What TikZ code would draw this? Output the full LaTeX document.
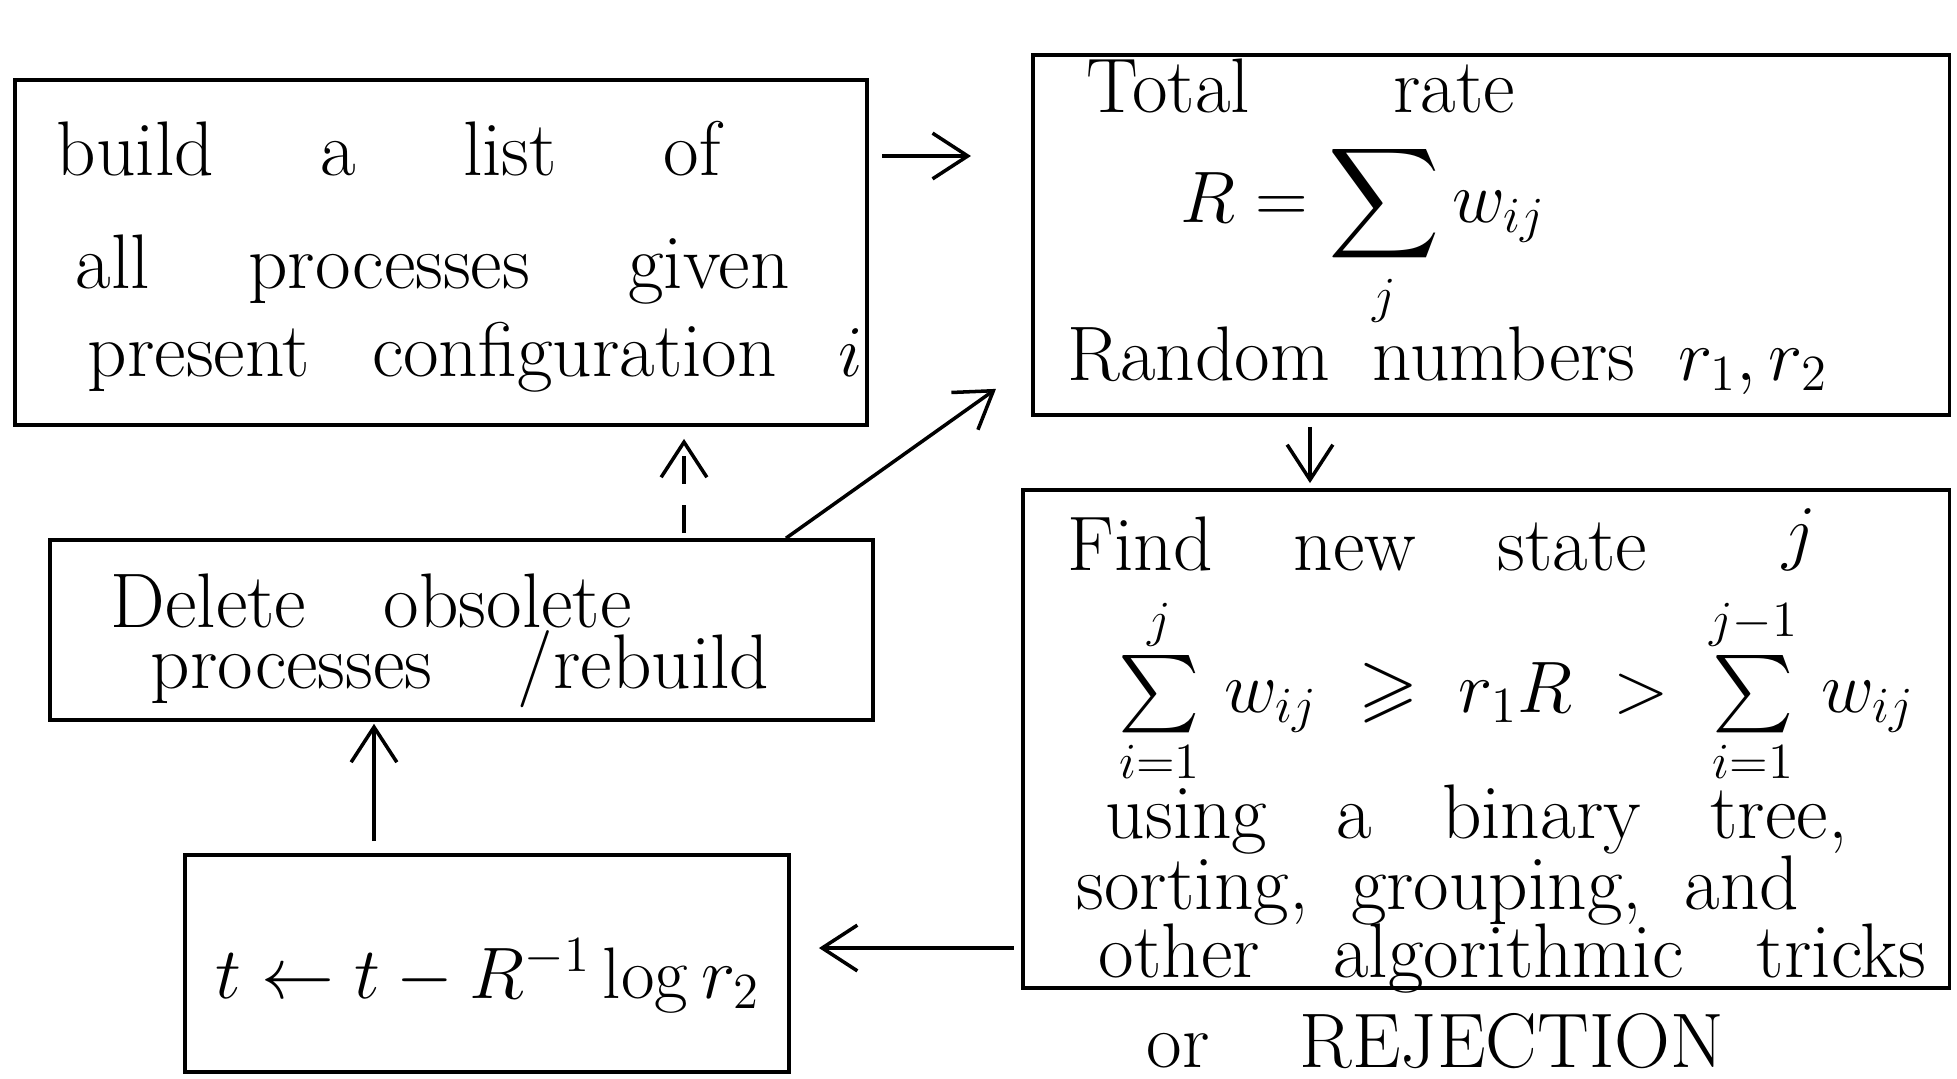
\documentclass[tikz,border=0pt]{standalone}
\usepackage{amsmath,amssymb}
\usetikzlibrary{arrows.meta,calc}
\newcommand\handfont{\fontsize{22}{26}\selectfont\spaceskip 0.55em plus 0.2em\relax}
\newcommand\wsp[1]{\spaceskip #1\relax}
\begin{document}
\begin{tikzpicture}[x=0.01cm,y=-0.01cm,
  box/.style={draw, line width=1pt, inner sep=0pt},
  txt/.style={anchor=base west, inner sep=0pt, font=\handfont},
  arr/.style={line width=1pt, -{Straight Barb[length=10pt,width=13pt,line width=1pt]}}]
\useasboundingbox (0,0) rectangle (1957,1078);

% boxes
\node[box, minimum width=8.52cm, minimum height=3.45cm] (b1) at (441,252.5) {};
\node[box, minimum width=9.16cm, minimum height=3.60cm] (b2) at (1491,235) {};
\node[box, minimum width=8.23cm, minimum height=1.80cm] (b3) at (461.5,630) {};
\node[box, minimum width=6.04cm, minimum height=2.17cm] (b4) at (487,963.5) {};
\node[box, minimum width=9.26cm, minimum height=4.98cm] (b5) at (1486,739) {};

% texts box 1
\node[txt] (t1a) at (56,175) {\wsp{1.38em}build a list of};
\node[txt] (t1b) at (75,288) {\wsp{1.27em}all processes given};
\node[txt] (t1c) at (87,376) {\wsp{0.8em}present configuration $i$};

% texts box 2
\node[txt] (t2a) at (1086,112) {Total\hspace{1.3em} rate};
\node[txt] (t2b) at (1180,222) {$\displaystyle R=\sum_j w_{ij}$};
\node[txt] (t2c) at (1067,380) {Random numbers $r_1, r_2$};

% texts box 3
\node[txt] (t3a) at (110,627) {\wsp{1em}Delete obsolete};
\node[txt] (t3b) at (150,688) {\wsp{1.1em}processes /rebuild};

% text box 4
\node[txt] (t4) at (215,998) {$t \leftarrow t - R^{-1}\log r_2$};

% texts box 5
\node[txt] (t5a) at (1067,570) {Find\hspace{0.5em} new\hspace{0.5em} state};
\node[txt] (t5j) at (1782,556) {$j$};
\node[txt] (t5b) at (1118,712) {$\sum\limits_{i=1}^{j}\, w_{ij} \;\geqslant\; r_1 R \;>\; \sum\limits_{i=1}^{j-1}\, w_{ij}$};
\node[txt] (t5c) at (1105,838) {\wsp{0.9em}using a binary tree,};
\node[txt] (t5d) at (1076,909) {sorting, grouping, and};
\node[txt] (t5e) at (1098,977) {\wsp{0.95em}other algorithmic tricks};
\node[txt] (t6) at (1146,1067) {or\hspace{0.9cm}REJECTION};

% connectors
\draw[arr, shorten <=0.13cm, shorten >=0.6cm] (b1.east |- 0,156) -- (b2.west |- 0,156);
\draw[arr, shorten <=0.1cm, shorten >=0.05cm] (b2.south -| 1310,0) -- (b5.north -| 1310,0);
\draw[arr, shorten <=0.07cm, shorten >=0.28cm] (b5.west |- 0,948) -- (b4.east |- 0,948);
\draw[arr, shorten <=0.12cm, shorten >=0.02cm] (b4.north -| 374,0) -- (b3.south -| 374,0);
\draw[arr, dash pattern=on 8pt off 6pt, shorten <=0.05cm, shorten >=0.12cm] (b3.north -| 684,0) -- (b1.south -| 684,0);
\draw[arr] (b3.north -| 786,0) -- ($(b2.south west)+(-35,-28)$);
\end{tikzpicture}
\end{document}
